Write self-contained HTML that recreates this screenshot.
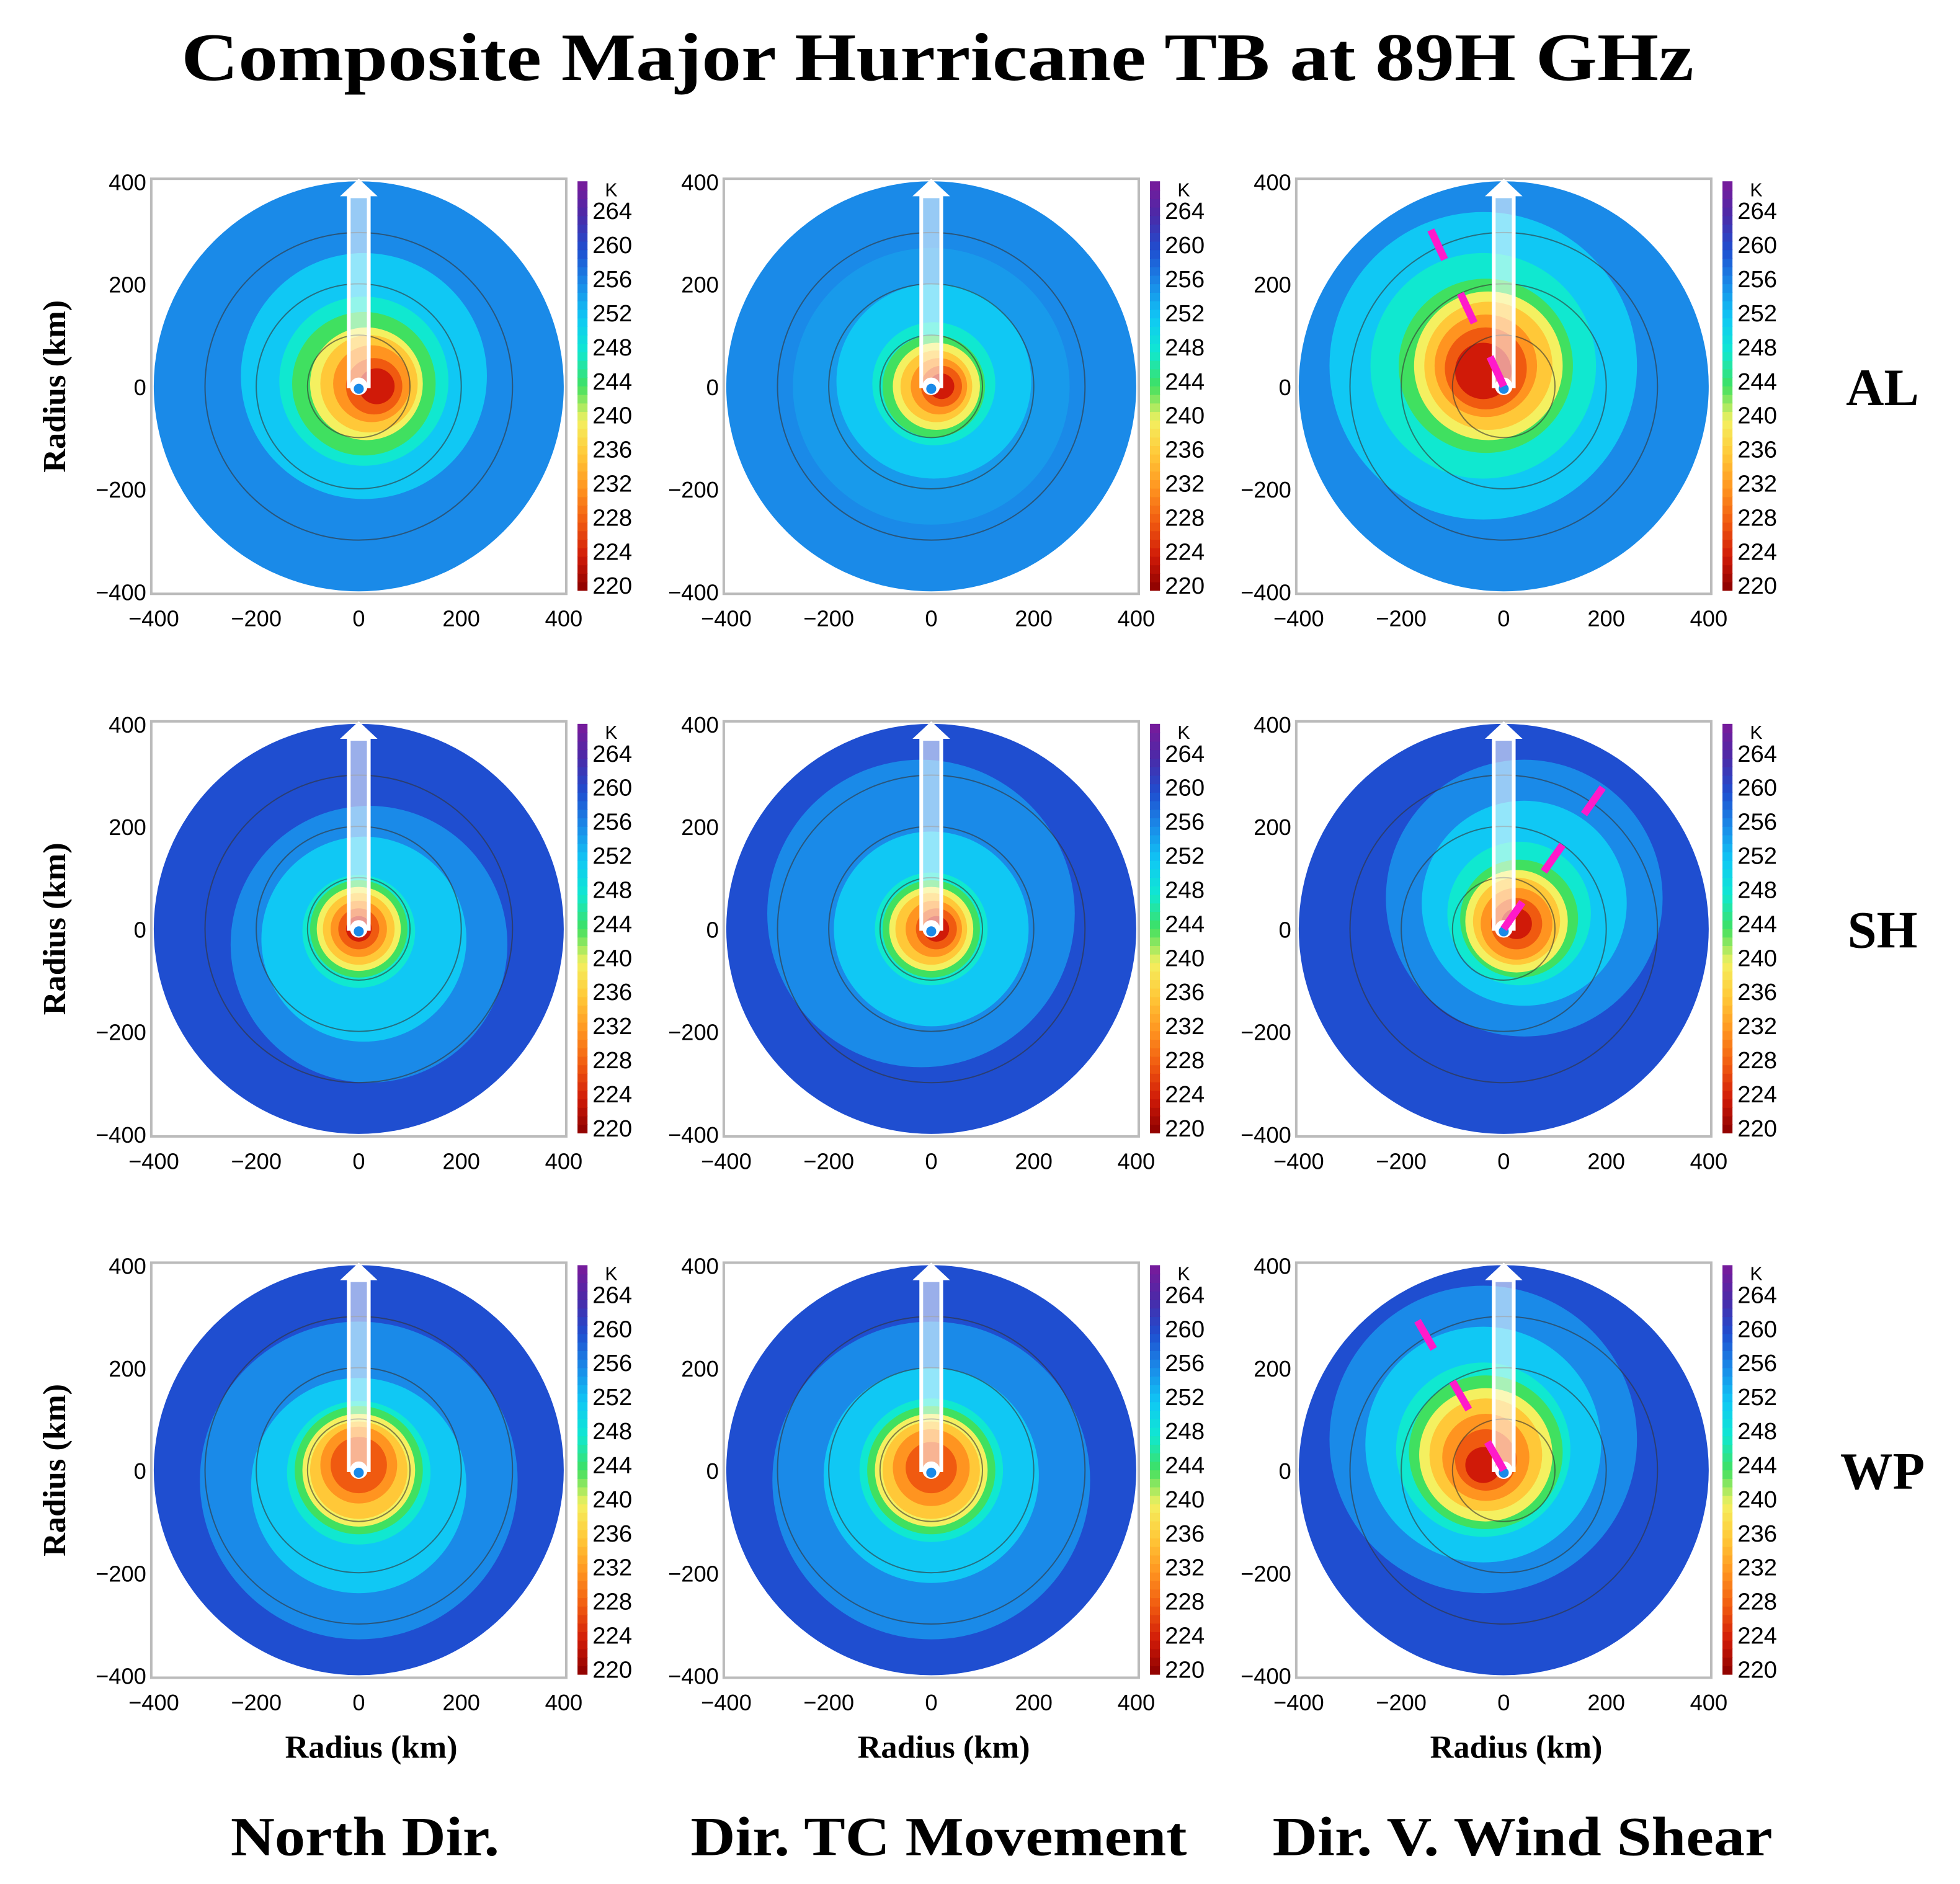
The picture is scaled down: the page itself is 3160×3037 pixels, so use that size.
<!DOCTYPE html>
<html><head><meta charset="utf-8">
<style>
html,body{margin:0;padding:0;background:#fff;}
svg{display:block;}
</style></head>
<body>
<svg id="fig" width="3160" height="3037" viewBox="0 0 1568 1507" xmlns="http://www.w3.org/2000/svg">
<text x="750" y="64" text-anchor="middle" font-family="Liberation Serif, serif" font-weight="bold" font-size="54" textLength="1210" lengthAdjust="spacingAndGlyphs">Composite Major Hurricane TB at 89H GHz</text>
<g id="panels"></g>
</svg>
<script>
// ---- data ----
const rowLabels = ['AL','SH','WP'];
const colLabels = ['North Dir.','Dir. TC Movement','Dir. V. Wind Shear'];
const axisTicks = [-400,-200,0,200,400];
const cbarTicks = [264,260,256,252,248,244,240,236,232,228,224,220];
const ringRadii = [100,200,300];
// layers per panel: [TB (K), radius km, x-offset km, y-offset km]
const panelAL1 = [[256,400,0,0],[252,240,10,20],[248,165,10,10],[244,140,10,5],[240,110,15,5],[236,95,20,5],[232,75,25,5],[228,55,30,0],[224,35,35,0]];
const panelAL2 = [[256,400,0,0],[255,270,0,0],[252,190,5,10],[248,120,5,5],[244,100,5,0],[240,85,10,0],[236,70,10,0],[232,55,15,0],[228,40,20,0],[224,25,20,0]];
const panelAL3 = [[256,400,0,0],[252,300,-40,40],[248,220,-40,40],[244,170,-35,40],[240,145,-30,40],[236,125,-30,40],[232,100,-35,40],[228,80,-35,35],[224,55,-40,30]];
const panelSH1 = [[260,400,0,0],[256,270,20,-30],[252,200,10,-20],[248,110,0,-5],[244,95,0,0],[240,82,0,0],[236,70,0,0],[232,55,0,0],[228,40,0,0],[224,25,0,0]];
const panelSH2 = [[260,400,0,0],[256,300,-20,30],[252,190,0,0],[248,110,0,0],[244,95,0,0],[240,82,0,0],[236,70,0,0],[232,55,5,0],[228,40,10,0],[224,25,10,0]];
const panelSH3 = [[260,400,0,0],[256,270,40,60],[252,200,40,50],[248,140,30,30],[244,115,30,20],[240,100,25,15],[236,85,25,15],[232,70,25,10],[228,50,25,10],[224,30,25,10]];
const panelWP1 = [[260,400,0,0],[256,310,0,-20],[252,210,0,-30],[248,140,0,-5],[244,125,0,0],[240,110,0,0],[236,95,0,0],[232,75,0,10],[228,55,0,10]];
const panelWP2 = [[260,400,0,0],[256,310,0,-20],[252,210,0,-10],[248,140,0,0],[244,125,0,0],[240,110,0,0],[236,95,0,0],[232,75,0,5],[228,50,0,5]];
const panelWP3 = [[260,400,0,0],[256,300,-40,60],[252,230,-40,50],[248,170,-40,40],[244,150,-35,35],[240,130,-35,30],[236,110,-35,30],[232,85,-35,25],[228,60,-35,20],[224,35,-40,10]];
const panels = [[panelAL1,panelAL2,panelAL3],[panelSH1,panelSH2,panelSH3],[panelWP1,panelWP2,panelWP3]];
const shearAngle = [-25, 35, -30]; // degrees from north for shear dashes (col 3)

// ---- color map ----
const cmapK = [220,224,228,232,236,240,244,248,252,256,260,264,268];
const cmapC = ['#8a0000','#d01a08','#f05a10','#ff9420','#ffc838','#f4f060','#40e060','#10e8d0','#10c8f4','#1a8ae8','#1f4ed0','#4a2aa8','#7a1a9a'];
function hex(c){return [1,3,5].map(i=>parseInt(c.substr(i,2),16));}
function tbColor(t){
  for(let i=0;i<cmapK.length-1;i++){
    if(t<=cmapK[i+1]){const f=Math.max(0,(t-cmapK[i])/(cmapK[i+1]-cmapK[i]));
      const a=hex(cmapC[i]),b=hex(cmapC[i+1]);
      return 'rgb('+a.map((v,j)=>Math.round(v+(b[j]-v)*f)).join(',')+')';}
  }
  return cmapC[cmapC.length-1];
}
const NS='http://www.w3.org/2000/svg';
function mk(tag,attrs,parent){const e=document.createElementNS(NS,tag);for(const k in attrs)e.setAttribute(k,attrs[k]);parent.appendChild(e);return e;}
const root=document.getElementById('panels');
const colX=[287,745,1203], rowY=[309,743,1176], R=164;
const font='Liberation Sans, sans-serif';
for(let r=0;r<3;r++)for(let c=0;c<3;c++){
  const cx=colX[c], cy=rowY[r];
  const sx=k=>cx+k/400*R, sy=k=>cy-k/400*R;
  const g=mk('g',{},root);
  
  
  const box=mk('rect',{x:cx-R-2,y:cy-R-2,width:2*R+4,height:2*R+4,fill:'#fff',stroke:'#bbb','stroke-width':2},g);
  
  
  for(const L of panels[r][c]){
    const e=mk('circle',{cx:sx(L[2]),cy:sy(L[3]),r:L[1]/400*R,fill:tbColor(L[0])},g);
    
    
  }
  for(const rr of ringRadii){
    const e=mk('circle',{cx:cx,cy:cy,r:rr/400*R,fill:'none',stroke:'#333','stroke-opacity':0.6,'stroke-width':1},g);
    
    
  }
  const ar=mk('g',{},g);
  
  
  mk('rect',{x:cx-8,y:cy-R+12,width:16,height:R-12,fill:'#fff','fill-opacity':0.55,stroke:'#fff','stroke-width':3},ar);
  mk('polygon',{points:(cx-15)+','+(cy-R+12)+' '+(cx+15)+','+(cy-R+12)+' '+cx+','+(cy-R-2),fill:'#fff'},ar);
  mk('circle',{cx:cx,cy:cy,r:7,fill:'#fff'},ar);
  mk('circle',{cx:cx,cy:cy+2,r:4,fill:'#1a8ae8'},ar);
  if(c===2){
    const a=shearAngle[r]*Math.PI/180;
    const sh=mk('line',{x1:cx,y1:cy,x2:cx+Math.sin(a)*R*0.95,y2:cy-Math.cos(a)*R*0.95,stroke:'#ff1aca','stroke-width':6,'stroke-dasharray':'26,30'},g);
    
    
  }
  for(const t of axisTicks){
    const xl=mk('text',{x:sx(t),y:cy+R+28,'text-anchor':'middle','font-family':font,'font-size':18},g);
    xl.textContent=(t<0?'\u2212':'')+Math.abs(t);
    
    
    const yl=mk('text',{x:cx-R-6,y:sy(t)+7,'text-anchor':'end','font-family':font,'font-size':18},g);
    yl.textContent=(t<0?'\u2212':'')+Math.abs(t);
    
    
  }
  if(c===0){
    const yt=mk('text',{x:52,y:cy,'text-anchor':'middle','font-family':'Liberation Serif, serif','font-weight':'bold','font-size':26,transform:'rotate(-90 52 '+cy+')'},g);
    yt.textContent='Radius (km)';
    
    
  }
  if(r===2){
    const xt=mk('text',{x:cx+10,y:1406,'text-anchor':'middle','font-family':'Liberation Serif, serif','font-weight':'bold','font-size':26},g);
    xt.textContent='Radius (km)';
    
    
  }
  const cb=mk('g',{},g);
  
  
  const bx=cx+R+11, top=cy-R, bot=cy+R-1, h=bot-top, span=48;
  for(let k=0;k<span;k++){
    const t=220+k, y=bot-(k+1)/span*h;
    mk('rect',{x:bx,y:y,width:8,height:h/span+0.6,fill:tbColor(t+0.5)},cb);
  }
  const kk=mk('text',{x:bx+22,y:top+12,'font-family':font,'font-size':15},cb);kk.textContent='K';
  for(const t of cbarTicks){
    const y=bot-4-(t-220)/span*h;
    const tl=mk('text',{x:bx+12,y:y+7,'font-family':font,'font-size':19},cb);
    tl.textContent=t;
    
    
  }
}
for(let r=0;r<3;r++){
  const t=mk('text',{x:1506,y:rowY[r]+15,'text-anchor':'middle','font-family':'Liberation Serif, serif','font-weight':'bold','font-size':42},root);
  t.textContent=rowLabels[r];
  
  
}
const colLabelX=[292,751,1218], colLabelW=[215,397,400];
for(let c=0;c<3;c++){
  const t=mk('text',{x:colLabelX[c],y:1484,'text-anchor':'middle','font-family':'Liberation Serif, serif','font-weight':'bold','font-size':44,textLength:colLabelW[c],lengthAdjust:'spacingAndGlyphs'},root);
  t.textContent=colLabels[c];
  
  
}
</script>
</body></html>
